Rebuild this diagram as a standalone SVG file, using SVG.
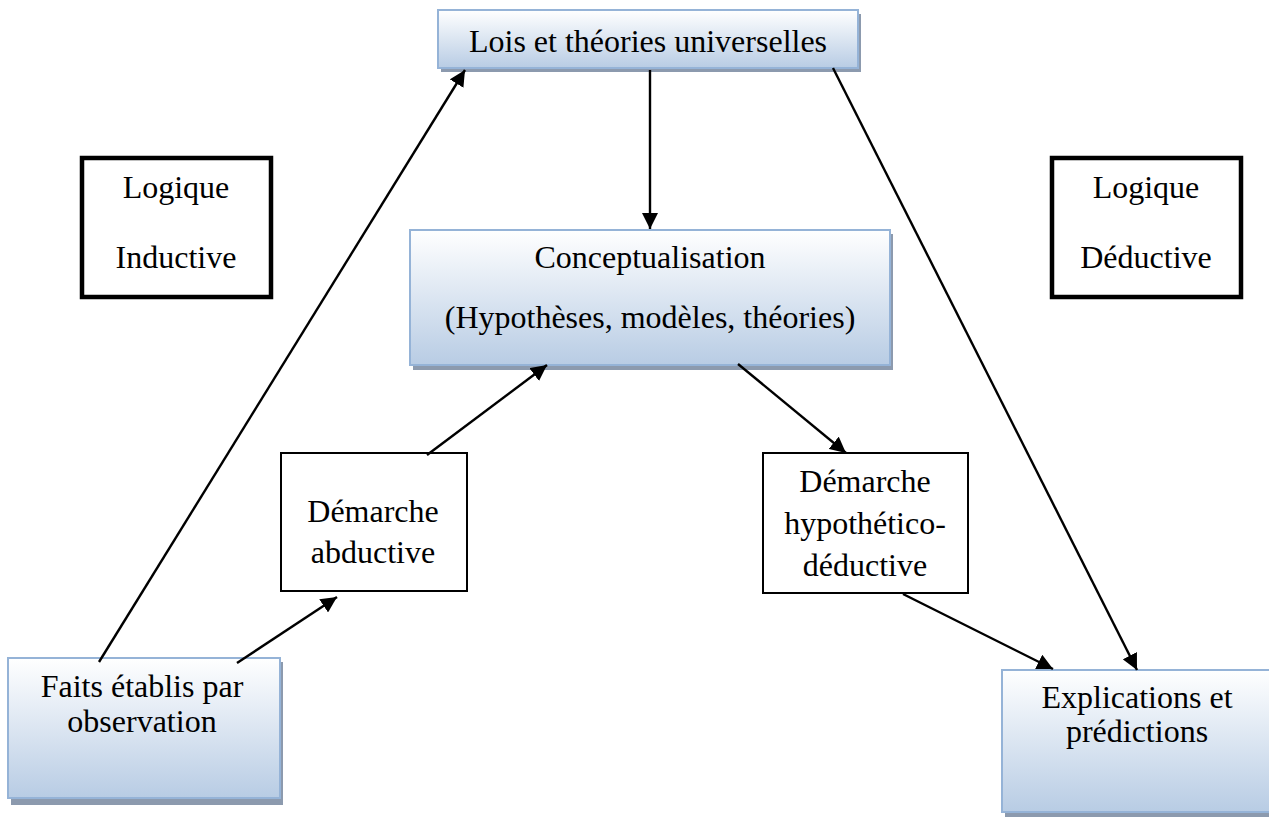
<svg xmlns="http://www.w3.org/2000/svg" width="1269" height="817" viewBox="0 0 1269 817">
<style>
text{font-family:'Liberation Serif','Times New Roman',serif;font-size:32px;fill:#000;text-anchor:middle}
.bl{fill:url(#g);stroke:#95b3d7;stroke-width:2}
.sh{fill:#8c9aae}
.plain{fill:#fff;stroke:#000;stroke-width:2}
.thick{fill:#fff;stroke:#000;stroke-width:4.5}
.c{stroke:#000;stroke-width:2.4;fill:none;marker-end:url(#ah)}
</style>
<defs>
<linearGradient id="g" x1="0" y1="0" x2="0" y2="1">
<stop offset="0" stop-color="#ffffff"/>
<stop offset="1" stop-color="#b8cce4"/>
</linearGradient>
<marker id="ah" viewBox="0 0 16 16" refX="16" refY="8" markerWidth="16" markerHeight="16" markerUnits="userSpaceOnUse" orient="auto">
<path d="M0,0 L16,8 L0,16 z" fill="#000"/>
</marker>
</defs>
<rect width="1269" height="817" fill="#fff"/>
<g id="lois">
<rect class="sh" x="441" y="14" width="420" height="58"/>
<rect class="bl" x="438" y="10" width="420" height="58"/>
<text x="648" y="52">Lois et théories universelles</text>
</g>
<g id="conceptualisation">
<rect class="sh" x="413" y="234" width="480" height="136"/>
<rect class="bl" x="410" y="230" width="480" height="135"/>
<text x="650" y="268">Conceptualisation</text>
<text x="650" y="328">(Hypothèses, modèles, théories)</text>
</g>
<g id="faits">
<rect class="sh" x="11" y="662" width="272" height="143"/>
<rect class="bl" x="8" y="658" width="272" height="140"/>
<text x="142" y="697">Faits établis par</text>
<text x="142" y="732">observation</text>
</g>
<g id="explications">
<rect class="sh" x="1005" y="674" width="270" height="143"/>
<rect class="bl" x="1002" y="670" width="270" height="142"/>
<text x="1137" y="708">Explications et</text>
<text x="1137" y="742">prédictions</text>
</g>
<g id="abductive">
<rect class="plain" x="281" y="453" width="186" height="138"/>
<text x="373" y="522">Démarche</text>
<text x="373" y="563">abductive</text>
</g>
<g id="hypothetico">
<rect class="plain" x="763" y="453" width="205" height="140"/>
<text x="865" y="492">Démarche</text>
<text x="865" y="534">hypothético-</text>
<text x="865" y="576">déductive</text>
</g>
<g id="inductive">
<rect class="thick" x="82" y="158" width="189" height="139"/>
<text x="176" y="198">Logique</text>
<text x="176" y="268">Inductive</text>
</g>
<g id="deductive">
<rect class="thick" x="1052" y="158" width="189" height="139"/>
<text x="1146" y="198">Logique</text>
<text x="1146" y="268">Déductive</text>
</g>
<g id="connectors">
<line class="c" x1="99" y1="662" x2="465" y2="70"/>
<line class="c" x1="650" y1="70" x2="650" y2="229"/>
<line class="c" x1="833" y1="68" x2="1137" y2="670"/>
<line class="c" x1="237" y1="663" x2="337" y2="597"/>
<line class="c" x1="427" y1="455" x2="547" y2="365"/>
<line class="c" x1="738" y1="364" x2="846" y2="453"/>
<line class="c" x1="903" y1="594" x2="1053" y2="669"/>
</g>
</svg>
